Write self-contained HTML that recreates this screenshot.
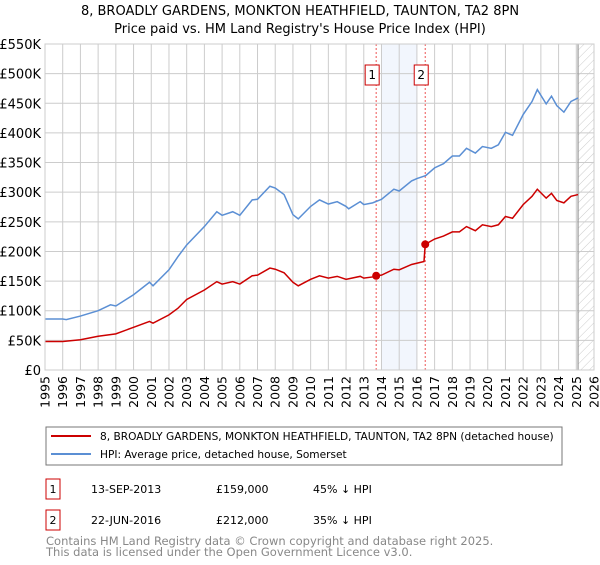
<!DOCTYPE html>
<html><head><meta charset="utf-8">
<style>
body{margin:0;background:#fff;font-family:"Liberation Sans","DejaVu Sans",sans-serif;}
svg text{font-family:"DejaVu Sans","Liberation Sans",sans-serif;}
</style></head>
<body>
<svg id="chart" width="600" height="560" viewBox="0 0 600 560">
<defs>
<pattern id="hatch" width="6" height="6" patternUnits="userSpaceOnUse" patternTransform="rotate(45)">
<line x1="0" y1="0" x2="0" y2="6" stroke="#ccc" stroke-width="1"/>
</pattern>
</defs>
<text x="300" y="15" text-anchor="middle" font-size="13" fill="#000">8, BROADLY GARDENS, MONKTON HEATHFIELD, TAUNTON, TA2 8PN</text>
<text x="300" y="33" text-anchor="middle" font-size="13" fill="#000">Price paid vs. HM Land Registry's House Price Index (HPI)</text>
<g id="grid"></g>
<g id="marks"></g>
<g id="axes"></g>

<g>
<rect x="46" y="427" width="516" height="38" fill="#fff" stroke="#777" stroke-width="1"/>
<line x1="51" y1="436" x2="91" y2="436" stroke="#cc0000" stroke-width="2"/>
<text x="100" y="440" font-size="10.6">8, BROADLY GARDENS, MONKTON HEATHFIELD, TAUNTON, TA2 8PN (detached house)</text>
<line x1="51" y1="454" x2="91" y2="454" stroke="#5b8fd4" stroke-width="2"/>
<text x="100" y="458" font-size="10.6">HPI: Average price, detached house, Somerset</text>
</g>

<g font-size="11">
<rect x="46" y="479" width="14" height="20" fill="#fff" stroke="#cc0000"/>
<text x="53" y="493" text-anchor="middle">1</text>
<text x="91" y="493">13-SEP-2013</text>
<text x="216" y="493">£159,000</text>
<text x="313" y="493">45% ↓ HPI</text>
<rect x="46" y="510" width="14" height="20" fill="#fff" stroke="#cc0000"/>
<text x="53" y="524" text-anchor="middle">2</text>
<text x="91" y="524">22-JUN-2016</text>
<text x="216" y="524">£212,000</text>
<text x="313" y="524">35% ↓ HPI</text>
</g>
<text x="46" y="545" font-size="11.5" fill="#888">Contains HM Land Registry data © Crown copyright and database right 2025.</text>
<text x="46" y="556" font-size="11.5" fill="#888">This data is licensed under the Open Government Licence v3.0.</text>
</svg>
<script>
const hpiYears=[1995,1996,1996.2,1997,1998,1998.7,1999,2000,2000.9,2001.1,2002,2002.5,2003,2004,2004.7,2005,2005.6,2006,2006.7,2007,2007.7,2008,2008.5,2009,2009.3,2010,2010.5,2011,2011.5,2012,2012.15,2012.8,2013,2013.5,2014,2014.7,2015,2015.7,2016,2016.5,2017,2017.5,2018,2018.4,2018.8,2019.3,2019.7,2020.2,2020.6,2021,2021.4,2022,2022.5,2022.8,2023.3,2023.6,2023.9,2024.3,2024.7,2025.1];
const hpiValues=[86,86,85,91,100,110,108,127,148,142,169,191,211,242,267,261,267,261,287,288,310,307,296,262,255,276,287,280,284,276,272,284,279,282,288,305,302,319,323,328,341,348,361,361,374,366,377,374,380,401,396,431,453,473,449,462,446,435,453,459];
const propYears=[1995,1996,1997,1998,1999,2000,2000.9,2001.1,2002,2002.5,2003,2004,2004.7,2005,2005.6,2006,2006.7,2007,2007.7,2008,2008.5,2009,2009.3,2010,2010.5,2011,2011.5,2012,2012.8,2013,2013.5,2013.7,2014,2014.7,2015,2015.7,2016.4,2016.47,2017,2017.5,2018,2018.4,2018.8,2019.3,2019.7,2020.2,2020.6,2021,2021.4,2022,2022.5,2022.8,2023.3,2023.6,2023.9,2024.3,2024.7,2025.1];
const propValues=[48,48,51,57,61,72,82,79,93,104,119,135,149,145,149,145,159,160,172,170,164,148,142,153,159,155,158,153,158,155,157,159,160,170,169,178,183,212,221,226,233,233,242,235,245,242,245,259,256,279,293,305,290,298,286,282,293,296];
const saleYears=[2013.70,2016.47];
const saleValues=[159,212];
const saleLabels=["1","2"];
const yTicks=[0,50,100,150,200,250,300,350,400,450,500,550];
const yTickLabels=["£0","£50K","£100K","£150K","£200K","£250K","£300K","£350K","£400K","£450K","£500K","£550K"];
const xTicks=[1995,1996,1997,1998,1999,2000,2001,2002,2003,2004,2005,2006,2007,2008,2009,2010,2011,2012,2013,2014,2015,2016,2017,2018,2019,2020,2021,2022,2023,2024,2025,2026];

const L=45,R=594,T=44,B=370,X0=1995,X1=2026,Ymax=550;
const xs=v=>L+(v-X0)/(X1-X0)*(R-L);
const ys=v=>B-v/Ymax*(B-T);
const NS="http://www.w3.org/2000/svg";
function mk(tag,attrs,parent){const e=document.createElementNS(NS,tag);for(const k in attrs)e.setAttribute(k,attrs[k]);parent.appendChild(e);return e;}
const grid=document.getElementById('grid'),marks=document.getElementById('marks'),axes=document.getElementById('axes');

const sh=mk('rect',{x:xs(2014),y:T,width:xs(2016)-xs(2014),height:B-T,fill:'#f2f6fd'},grid);


const hx=xs(2025.1);
const hr=mk('rect',{x:hx,y:T,width:R-hx,height:B-T,fill:'url(#hatch)'},grid);



yTicks.forEach((t,i)=>{
  const g=mk('line',{x1:L,x2:R,y1:ys(t),y2:ys(t),stroke:'#cccccc','stroke-width':1},grid);
  
  
  const tx=mk('text',{x:L-4,y:ys(t)+5,'text-anchor':'end','font-size':13,fill:'#000'},axes);
  tx.textContent=yTickLabels[i];
  
  
});
xTicks.forEach(t=>{
  const g=mk('line',{x1:xs(t),x2:xs(t),y1:T,y2:B,stroke:'#cccccc','stroke-width':1},grid);
  
  
  const tx=mk('text',{x:0,y:0,'text-anchor':'end','font-size':12.5,fill:'#000',transform:`translate(${xs(t)+4.5},376) rotate(-90)`},axes);
  tx.textContent=String(t);
  
  
});
const vl=mk('line',{x1:hx,x2:hx,y1:T,y2:B,stroke:'#999','stroke-width':1.2},grid);



saleYears.forEach((y,i)=>{
  const d=mk('line',{x1:xs(y),x2:xs(y),y1:T,y2:B,stroke:'#ee5555','stroke-width':1,'stroke-dasharray':'2,2'},marks);
  
  
  const bx=mk('rect',{x:xs(y)-11,y:65,width:14,height:20,fill:'#fff',stroke:'#cc0000'},marks);
  
  
  const bt=mk('text',{x:xs(y)-4,y:79,'text-anchor':'middle','font-size':12},marks);
  bt.textContent=saleLabels[i];
  
  
});

const hp=mk('polyline',{points:hpiYears.map((y,i)=>xs(y)+','+ys(hpiValues[i])).join(' '),fill:'none',stroke:'#5b8fd4','stroke-width':1.5},marks);


const pp=mk('polyline',{points:propYears.map((y,i)=>xs(y)+','+ys(propValues[i])).join(' '),fill:'none',stroke:'#cc0000','stroke-width':1.5},marks);


saleYears.forEach((y,i)=>{
  const c=mk('circle',{cx:xs(y),cy:ys(saleValues[i]),r:4,fill:'#cc0000'},marks);
  
  
});
const fr=mk('rect',{x:L,y:T,width:R-L,height:B-T,fill:'none',stroke:'#cccccc'},axes);


</script>
</body></html>
